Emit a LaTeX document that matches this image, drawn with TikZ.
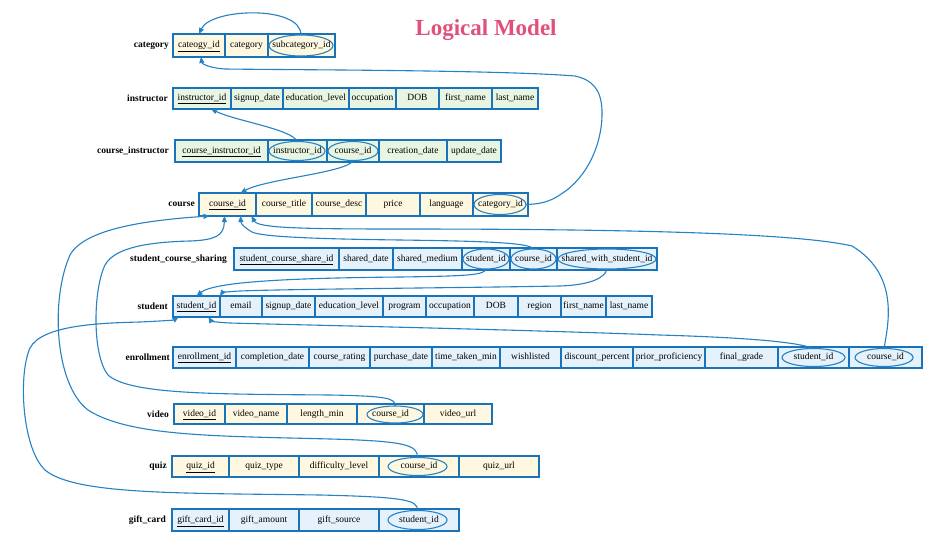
\documentclass[tikz,border=0pt]{standalone}
\usepackage{fontspec}
\setmainfont{Liberation Serif}
\usetikzlibrary{arrows.meta,shapes.geometric}
\definecolor{bordc}{RGB}{24,115,186}
\definecolor{linec}{RGB}{38,130,198}
\definecolor{fyel}{RGB}{255,248,225}
\definecolor{fgrn}{RGB}{232,245,226}
\definecolor{fblu}{RGB}{229,242,252}
\definecolor{titlec}{RGB}{224,80,122}
\tikzset{
  cellbox/.style={draw=bordc, line width=1.1pt, rectangle, inner sep=0.5pt, outer sep=0pt,
    text height=6.8pt, text depth=2.2pt, font=\fontsize{9.5}{11}\selectfont},
  tframe/.style={draw=bordc, line width=1.6pt},
  tlabel/.style={anchor=east, font=\bfseries\fontsize{9.5}{11}\selectfont, inner sep=0pt},
  fkell/.style={ellipse, draw=linec, line width=1.1pt, inner sep=0pt, outer sep=0pt},
  fkarrow/.style={draw=linec, line width=1.1pt, -{Triangle[length=6pt,width=5pt]}},
  ttl/.style={font=\bfseries\fontsize{23}{26}\selectfont, text=titlec, anchor=base}
}
\newcommand\setrow[3]{\def\myT{#1}\def\myB{#2}\def\myF{#3}}
\newcommand\fld[4]{\node[cellbox,fill=\myF,minimum width={#3-#2},minimum height={\myB-\myT}] (#1) at ({(#2+#3)/2},{(\myT+\myB)/2}) {#4};}
\newcommand\fke[5]{\node[fkell,minimum width=#4,minimum height=#5] (#1) at (#2,#3) {};}
\begin{document}
\begin{tikzpicture}[x=1pt,y=-1pt]
\fill[white] (0,0) rectangle (936,546);
\useasboundingbox (0,0) rectangle (936,546);

\node[ttl] (title) at (486,35) {Logical Model};

% category
\setrow{34}{57}{fyel}
\fld{cat_id}{173}{225}{\underline{cateogy\_id}}
\fld{cat_cat}{225}{268}{category}
\fld{cat_sub}{268}{335}{subcategory\_id}
\draw[tframe] (cat_id.north west) rectangle (cat_sub.south east);
\node[tlabel] (l_cat) at (169,45.5) {category};

% instructor
\setrow{88}{109}{fgrn}
\fld{ins_id}{173}{231}{\underline{instructor\_id}}
\fld{ins_sd}{231}{283}{signup\_date}
\fld{ins_el}{283}{349}{education\_level}
\fld{ins_oc}{349}{396}{occupation}
\fld{ins_dob}{396}{439}{DOB}
\fld{ins_fn}{439}{492}{first\_name}
\fld{ins_ln}{492}{538}{last\_name}
\draw[tframe] (ins_id.north west) rectangle (ins_ln.south east);
\node[tlabel] (l_ins) at (168,98.5) {instructor};

% course_instructor
\setrow{140}{162}{fgrn}
\fld{ci_id}{175}{268}{\underline{course\_instructor\_id}}
\fld{ci_ins}{268}{327}{instructor\_id}
\fld{ci_cid}{327}{379}{course\_id}
\fld{ci_cd}{379}{447}{creation\_date}
\fld{ci_ud}{447}{501}{update\_date}
\draw[tframe] (ci_id.north west) rectangle (ci_ud.south east);
\node[tlabel] (l_ci) at (169,151) {course\_instructor};

% course
\setrow{193}{216}{fyel}
\fld{co_id}{199}{256}{\underline{course\_id}}
\fld{co_ti}{256}{312}{course\_title}
\fld{co_de}{312}{366}{course\_desc}
\fld{co_pr}{366}{420}{price}
\fld{co_la}{420}{473}{language}
\fld{co_cat}{473}{528}{category\_id}
\draw[tframe] (co_id.north west) rectangle (co_cat.south east);
\node[tlabel] (l_co) at (195,204.5) {course};

% student_course_sharing
\setrow{248}{270}{fblu}
\fld{sh_id}{234}{339}{\underline{student\_course\_share\_id}}
\fld{sh_sd}{339}{393}{shared\_date}
\fld{sh_sm}{393}{462}{shared\_medium}
\fld{sh_sid}{462}{510}{student\_id}
\fld{sh_cid}{510}{557}{course\_id}
\fld{sh_sw}{557}{657}{shared\_with\_student\_id}
\draw[tframe] (sh_id.north west) rectangle (sh_sw.south east);
\node[tlabel] (l_sh) at (227,259) {student\_course\_sharing};

% student
\setrow{296}{317}{fblu}
\fld{st_id}{173}{220}{\underline{student\_id}}
\fld{st_em}{220}{262}{email}
\fld{st_sd}{262}{315}{signup\_date}
\fld{st_el}{315}{383}{education\_level}
\fld{st_pr}{383}{426}{program}
\fld{st_oc}{426}{474}{occupation}
\fld{st_dob}{474}{518}{DOB}
\fld{st_re}{518}{561}{region}
\fld{st_fn}{561}{606}{first\_name}
\fld{st_ln}{606}{652}{last\_name}
\draw[tframe] (st_id.north west) rectangle (st_ln.south east);
\node[tlabel] (l_st) at (168,306.5) {student};

% enrollment
\setrow{347}{368}{fblu}
\fld{en_id}{173}{236}{\underline{enrollment\_id}}
\fld{en_cd}{236}{309}{completion\_date}
\fld{en_cr}{309}{370}{course\_rating}
\fld{en_pd}{370}{432}{purchase\_date}
\fld{en_tt}{432}{500}{time\_taken\_min}
\fld{en_wl}{500}{561}{wishlisted}
\fld{en_dp}{561}{633}{discount\_percent}
\fld{en_pp}{633}{705}{prior\_proficiency}
\fld{en_fg}{705}{778}{final\_grade}
\fld{en_sid}{778}{849}{student\_id}
\fld{en_cid}{849}{922}{course\_id}
\draw[tframe] (en_id.north west) rectangle (en_cid.south east);
\node[tlabel] (l_en) at (170,357.5) {enrollment};

% video
\setrow{404}{424}{fyel}
\fld{vi_id}{174}{225}{\underline{video\_id}}
\fld{vi_nm}{225}{287}{video\_name}
\fld{vi_lm}{287}{357}{length\_min}
\fld{vi_cid}{357}{424}{course\_id}
\fld{vi_url}{424}{492}{video\_url}
\draw[tframe] (vi_id.north west) rectangle (vi_url.south east);
\node[tlabel] (l_vi) at (169,414) {video};

% quiz
\setrow{456}{477}{fyel}
\fld{qz_id}{172}{229}{\underline{quiz\_id}}
\fld{qz_ty}{229}{299}{quiz\_type}
\fld{qz_dl}{299}{379}{difficulty\_level}
\fld{qz_cid}{379}{459}{course\_id}
\fld{qz_url}{459}{539}{quiz\_url}
\draw[tframe] (qz_id.north west) rectangle (qz_url.south east);
\node[tlabel] (l_qz) at (167,466.5) {quiz};

% gift_card
\setrow{509}{531}{fblu}
\fld{gc_id}{172}{229}{\underline{gift\_card\_id}}
\fld{gc_am}{229}{299}{gift\_amount}
\fld{gc_src}{299}{379}{gift\_source}
\fld{gc_sid}{379}{459}{student\_id}
\draw[tframe] (gc_id.north west) rectangle (gc_sid.south east);
\node[tlabel] (l_gc) at (166,520) {gift\_card};

% foreign key ellipses
\fke{e_catsub}{301}{45.5}{64pt}{21pt}
\fke{e_ciins}{297}{151}{56pt}{19pt}
\fke{e_cicid}{353}{151}{50pt}{19pt}
\fke{e_catid}{500}{204.5}{52pt}{20pt}
\fke{e_shsid}{486}{259}{46pt}{20pt}
\fke{e_shcid}{533.5}{259}{45pt}{20pt}
\fke{e_swsid}{607}{259}{98pt}{20pt}
\fke{e_enrsid}{813.5}{357.5}{63pt}{18pt}
\fke{e_enrcid}{884}{357.5}{58pt}{18pt}
\fke{e_vidcid}{395}{414.5}{56pt}{17pt}
\fke{e_quizcid}{417.5}{466.5}{59pt}{18pt}
\fke{e_gcsid}{417.5}{520}{59pt}{19pt}

% connectors
\draw[fkarrow] (e_catsub.north) .. controls +(0,-30) and +(12,-26) .. (cat_id.north);
\draw[fkarrow] (e_catid.east) .. controls (550,204) and (558,196) .. (567,190)
  .. controls (590,172) and (603,140) .. (602,110)
  .. controls (601,90) and (593,80) .. (575,76)
  .. controls (500,70) and (300,70) .. (225,69)
  .. controls (210,68) and (202,64) .. ([xshift=2pt]cat_id.south);
\draw[fkarrow] (e_ciins.north) .. controls +(-4,-12) and +(25,12) .. ([xshift=9pt]ins_id.south);
\draw[fkarrow] (e_cicid.south) .. controls +(-5,12) and +(25,-14) .. ([xshift=13pt]co_id.north);
\draw[fkarrow] (e_enrcid.north) .. controls (888,325) and (900,275) .. (852,246)
  .. controls (800,234) and (650,229) .. (400,229)
  .. controls (300,229) and (258,228) .. ([xshift=24pt]co_id.south);
\draw[fkarrow] (e_shcid.north) .. controls +(-3,-7) and (470,241) .. (400,240)
  .. controls (320,239) and (262,237) .. (252,232)
  .. controls (245,228) and (241,224) .. ([xshift=13pt]co_id.south);
\draw[fkarrow] (e_vidcid.north) .. controls (396,398) and (385,396) .. (330,395)
  .. controls (220,394) and (130,395) .. (108,375)
  .. controls (92,355) and (93,290) .. (105,265)
  .. controls (115,247) and (150,242) .. (190,241)
  .. controls (215,240) and (224,236) .. ([xshift=-3pt]co_id.south);
\draw[fkarrow] (e_quizcid.north) .. controls (418,445) and (405,441) .. (330,439)
  .. controls (220,436) and (130,437) .. (88,410)
  .. controls (55,385) and (50,300) .. (70,255)
  .. controls (85,228) and (150,220) .. ([xshift=-18pt]co_id.south);
\draw[fkarrow] (e_gcsid.north) .. controls (418,500) and (405,497) .. (320,495)
  .. controls (180,493) and (75,495) .. (45,470)
  .. controls (22,448) and (18,375) .. (30,348)
  .. controls (42,325) and (100,323) .. (140,322)
  .. controls (162,321) and (174,320) .. ([xshift=-18pt]st_id.south);
\draw[fkarrow] (e_enrsid.north) .. controls (800,343) and (760,338) .. (660,335)
  .. controls (500,329) and (300,325) .. (230,323)
  .. controls (218,322.5) and (211,321) .. ([xshift=12pt]st_id.south);
\draw[fkarrow] (e_shsid.south) .. controls +(-2,6) and (470,276) .. (400,277)
  .. controls (300,278) and (215,281) .. (st_id.north);
\draw[fkarrow] (e_swsid.south) .. controls +(-2,9) and (590,285) .. (560,286)
  .. controls (450,288) and (290,289) .. (240,291)
  .. controls (228,291.5) and (222,293) .. (st_id.north east);
\end{tikzpicture}
\end{document}
